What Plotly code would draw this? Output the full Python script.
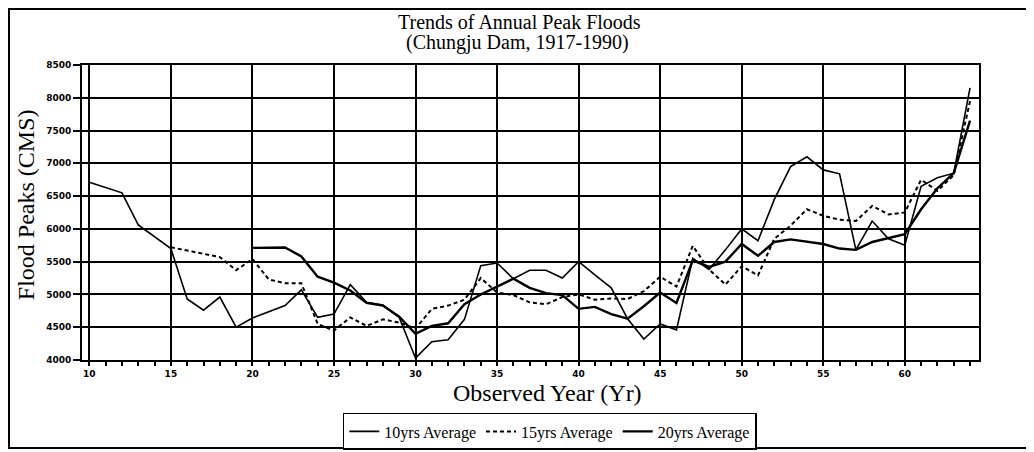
import plotly.graph_objects as go

# ---- data ----
years_10 = list(range(10, 65))
avg_10 = [6710, 6630, 6550, 6060, 5880, 5700, 4930, 4760, 4960, 4500,
          4640, 4730, 4830, 5070, 4650, 4700, 5150, 4880, 4840, 4650,
          4030, 4280, 4310, 4620, 5440, 5480, 5240, 5370, 5370, 5250,
          5500, 5300, 5100, 4630, 4320, 4550, 4460, 5550, 5380, 5680,
          6000, 5820, 6450, 6950, 7100, 6900, 6840, 5680, 6120, 5850,
          5750, 6650, 6780, 6850, 8150]

years_15 = list(range(15, 65))
avg_15 = [5720, 5670, 5630, 5570, 5370, 5540, 5230, 5170, 5170, 4550,
          4450, 4650, 4520, 4620, 4570, 4480, 4780, 4830, 4920, 5250,
          5030, 4990, 4880, 4850, 4960, 5000, 4920, 4940, 4930, 5050,
          5270, 5120, 5740, 5380, 5150, 5430, 5290, 5850, 6050, 6300,
          6200, 6140, 6120, 6350, 6220, 6250, 6750, 6580, 6820, 7950]

years_20 = list(range(20, 65))
avg_20 = [5710, 5715, 5715, 5580, 5270, 5180, 5060, 4870, 4830, 4660,
          4400, 4520, 4560, 4850, 5000, 5120, 5240, 5100, 5020, 4990,
          4780, 4810, 4700, 4630, 4820, 5030, 4870, 5520, 5420, 5500,
          5770, 5590, 5800, 5840, 5800, 5770, 5700, 5680, 5800, 5860,
          5920, 6300, 6620, 6850, 7650]

x_ticks = [10, 15, 20, 25, 30, 35, 40, 45, 50, 55, 60]
y_ticks = [4000, 4500, 5000, 5500, 6000, 6500, 7000, 7500, 8000, 8500]

title_1 = "Trends of Annual Peak Floods"
title_2 = "(Chungju Dam, 1917-1990)"
x_title = "Observed Year (Yr)"
y_title = "Flood Peaks (CMS)"

SERIF = "Liberation Serif, Times New Roman, serif"

fig = go.Figure()
fig.add_trace(go.Scatter(x=years_10, y=avg_10, mode="lines", name="10yrs Average",
                         line=dict(color="black", width=1.6)))
fig.add_trace(go.Scatter(x=years_15, y=avg_15, mode="lines", name="15yrs Average",
                         line=dict(color="black", width=2, dash="4px,3px")))
fig.add_trace(go.Scatter(x=years_20, y=avg_20, mode="lines", name="20yrs Average",
                         line=dict(color="black", width=2.4)))

fig.update_xaxes(
    range=[9.55, 64.55], tickmode="array", tickvals=x_ticks,
    ticks="outside", ticklen=4, tickwidth=2, tickcolor="black",
    showgrid=True, gridcolor="black", gridwidth=2,
    showline=True, linecolor="black", linewidth=2, mirror=True,
    zeroline=False,
    tickfont=dict(family="DejaVu Sans", size=9, color="black", weight="bold"),
    minor=dict(dtick=1, tick0=10, ticks="outside", ticklen=4, tickwidth=2,
               tickcolor="black", showgrid=False),
)
fig.update_yaxes(
    range=[4000, 8500], tickmode="array", tickvals=y_ticks,
    ticks="outside", ticklen=7, tickwidth=2, tickcolor="black",
    showgrid=True, gridcolor="black", gridwidth=2,
    showline=True, linecolor="black", linewidth=2, mirror=True,
    zeroline=False,
    tickfont=dict(family="DejaVu Sans", size=9, color="black", weight="bold"),
)

# the page adds an 8px body margin, so the plot box is shifted back by 8px
fig.update_layout(
    width=1034, height=452,
    margin=dict(l=74, r=63, t=57, b=100, autoexpand=False),
    paper_bgcolor="white", plot_bgcolor="white",
    showlegend=True,
    legend=dict(orientation="h", xref="container", yref="container",
                x=0.524, xanchor="center", y=0.104, yanchor="top",
                bordercolor="black", borderwidth=1.5, bgcolor="white",
                font=dict(family=SERIF, size=16, color="black"),
                itemwidth=30, tracegroupgap=0),
    annotations=[
        dict(text=title_1, x=0.488, y=1.147, xref="paper", yref="paper",
             xanchor="center", yanchor="middle",
             showarrow=False, font=dict(family=SERIF, size=20, color="black")),
        dict(text=title_2, x=0.486, y=1.075, xref="paper", yref="paper",
             xanchor="center", yanchor="middle",
             showarrow=False, font=dict(family=SERIF, size=20, color="black")),
        dict(text=x_title, x=0.5195, y=-0.112, xref="paper", yref="paper",
             xanchor="center", yanchor="middle",
             showarrow=False, font=dict(family=SERIF, size=24, color="black")),
        dict(text=y_title, x=-0.0624, y=0.525, xref="paper", yref="paper",
             xanchor="center", yanchor="middle", textangle=-90, showarrow=False,
             font=dict(family=SERIF, size=24, color="black")),
    ],
    shapes=[
        dict(type="rect", xref="paper", yref="paper",
             x0=-0.0814, x1=1.0546, y0=-0.298, y1=1.19,
             line=dict(color="black", width=2), fillcolor="rgba(0,0,0,0)"),
    ],
)

fig.write_html("out.html")
